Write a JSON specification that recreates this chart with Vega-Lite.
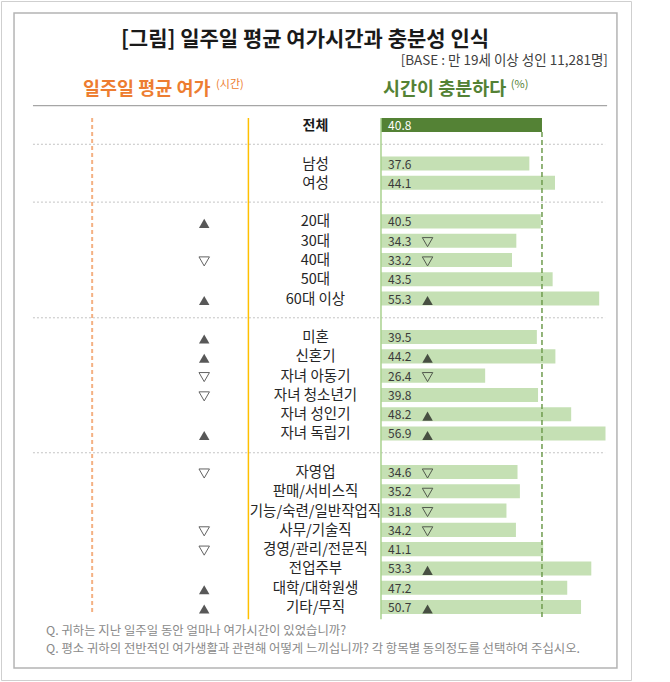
{
  "$schema": "https://vega.github.io/schema/vega-lite/v6.json",
  "width": 630,
  "height": 679,
  "padding": {"left": 1, "top": 1, "right": 39, "bottom": 2},
  "autosize": {"type": "none"},
  "background": "white",
  "config": {
    "view": {"stroke": "#cfcfcf", "strokeWidth": 1},
    "axis": {"disable": true},
    "font": "Noto Sans CJK KR",
    "text": {"font": "Noto Sans CJK KR"}
  },
  "datasets": {
    "rows": [
      {"label": "전체", "pct": 40.8, "left": "", "right": ""},
      {"label": "남성", "pct": 37.6, "left": "", "right": ""},
      {"label": "여성", "pct": 44.1, "left": "", "right": ""},
      {"label": "20대", "pct": 40.5, "left": "up", "right": ""},
      {"label": "30대", "pct": 34.3, "left": "", "right": "down"},
      {"label": "40대", "pct": 33.2, "left": "down", "right": "down"},
      {"label": "50대", "pct": 43.5, "left": "", "right": ""},
      {"label": "60대 이상", "pct": 55.3, "left": "up", "right": "up"},
      {"label": "미혼", "pct": 39.5, "left": "up", "right": ""},
      {"label": "신혼기", "pct": 44.2, "left": "up", "right": "up"},
      {"label": "자녀 아동기", "pct": 26.4, "left": "down", "right": "down"},
      {"label": "자녀 청소년기", "pct": 39.8, "left": "down", "right": ""},
      {"label": "자녀 성인기", "pct": 48.2, "left": "", "right": "up"},
      {"label": "자녀 독립기", "pct": 56.9, "left": "up", "right": "up"},
      {"label": "자영업", "pct": 34.6, "left": "down", "right": "down"},
      {"label": "판매/서비스직", "pct": 35.2, "left": "", "right": "down"},
      {"label": "기능/숙련/일반작업직", "pct": 31.8, "left": "", "right": "down"},
      {"label": "사무/기술직", "pct": 34.2, "left": "down", "right": "down"},
      {"label": "경영/관리/전문직", "pct": 41.1, "left": "down", "right": ""},
      {"label": "전업주부", "pct": 53.3, "left": "", "right": "up"},
      {"label": "대학/대학원생", "pct": 47.2, "left": "up", "right": ""},
      {"label": "기타/무직", "pct": 50.7, "left": "up", "right": "up"}
    ],
    "gaps": [{"g": "g1"}, {"g": "g2"}, {"g": "g3"}, {"g": "g4"}]
  },
  "data": {"name": "rows"},
  "layer": [
    {
      "data": {"values": [{}]},
      "mark": {"type": "rect", "filled": false, "stroke": "#b4b4b4", "strokeWidth": 1.5},
      "encoding": {
        "x": {"datum": -93.0},
        "x2": {"datum": 59.8},
        "y": {"datum": "t0", "bandPosition": 0.76},
        "y2": {"datum": "b2", "bandPosition": 0.72}
      }
    },
    {
      "data": {"values": [{}]},
      "mark": {"type": "rule", "color": "#a6a6a6", "strokeWidth": 1.2},
      "encoding": {
        "x": {"datum": -88.2},
        "x2": {"datum": 57.3},
        "y": {"datum": "t5"}
      }
    },
    {
      "data": {"name": "gaps"},
      "mark": {"type": "rule", "color": "#c4c4c4", "strokeWidth": 1, "strokeDash": [2, 2]},
      "encoding": {
        "x": {"datum": -88.2},
        "x2": {"datum": 56.8},
        "y": {"field": "g", "type": "nominal"}
      }
    },
    {
      "data": {"values": [{}]},
      "mark": {"type": "rule", "color": "#f4b183", "strokeWidth": 2, "strokeDash": [4, 3]},
      "encoding": {
        "x": {"datum": -73.2},
        "y": {"datum": "전체", "bandPosition": 0},
        "y2": {"datum": "기타/무직", "bandPosition": 1}
      }
    },
    {
      "data": {"values": [{}]},
      "mark": {"type": "rule", "color": "#ffc000", "strokeWidth": 1.5},
      "encoding": {
        "x": {"datum": -33.6},
        "y": {"datum": "전체", "bandPosition": 0},
        "y2": {"datum": "b0", "bandPosition": 0}
      }
    },
    {
      "mark": {"type": "bar"},
      "encoding": {
        "y": {
          "field": "label",
          "type": "nominal",
          "axis": null,
          "scale": {
            "type": "band",
            "domain": ["t0", "t1", "t2", "t3", "t4", "t5", "전체", "g1", "남성", "여성", "g2", "20대", "30대", "40대", "50대", "60대 이상", "g3", "미혼", "신혼기", "자녀 아동기", "자녀 청소년기", "자녀 성인기", "자녀 독립기", "g4", "자영업", "판매/서비스직", "기능/숙련/일반작업직", "사무/기술직", "경영/관리/전문직", "전업주부", "대학/대학원생", "기타/무직", "b0", "b1", "b2"],
            "paddingInner": 0.27,
            "paddingOuter": 0.244,
            "align": 0.136
          }
        },
        "x": {
          "field": "pct",
          "type": "quantitative",
          "axis": null,
          "scale": {"domain": [-96.3, 63.36], "nice": false, "zero": false}
        },
        "x2": {"datum": 0},
        "color": {
          "condition": {"test": "datum.label === '전체'", "value": "#548235"},
          "value": "#c5e0b4"
        }
      }
    },
    {
      "data": {"values": [{}]},
      "mark": {"type": "rule", "color": "#a9d18e", "strokeWidth": 1.5},
      "encoding": {
        "x": {"datum": 0},
        "y": {"datum": "전체", "bandPosition": 0},
        "y2": {"datum": "b0", "bandPosition": 0}
      }
    },
    {
      "data": {"values": [{}]},
      "mark": {"type": "rule", "color": "#6f9c4e", "strokeWidth": 1.5, "strokeDash": [5, 3]},
      "encoding": {
        "x": {"datum": 40.8},
        "y": {"datum": "전체", "bandPosition": 1},
        "y2": {"datum": "b0", "bandPosition": 0}
      }
    },
    {
      "mark": {"type": "text", "align": "left", "baseline": "middle", "fontSize": 12, "dy": 1},
      "encoding": {
        "x": {"datum": 1.8},
        "y": {"field": "label", "type": "nominal"},
        "text": {"field": "pct", "type": "quantitative", "format": ".1f"},
        "color": {
          "condition": {"test": "datum.label === '전체'", "value": "#ffffff"},
          "value": "#3a3a3a"
        }
      }
    },
    {
      "transform": [{"filter": "datum.label !== '전체'"}],
      "mark": {"type": "text", "align": "center", "baseline": "middle", "fontSize": 14.5, "color": "#262626", "dy": 1},
      "encoding": {
        "x": {"datum": -16.6},
        "y": {"field": "label", "type": "nominal"},
        "text": {"field": "label", "type": "nominal"}
      }
    },
    {
      "transform": [{"filter": "datum.label === '전체'"}],
      "mark": {"type": "text", "align": "center", "baseline": "middle", "fontSize": 14, "fontWeight": "bold", "color": "#1a1a1a", "dy": 1},
      "encoding": {
        "x": {"datum": -16.6},
        "y": {"field": "label", "type": "nominal"},
        "text": {"field": "label", "type": "nominal"}
      }
    },
    {
      "transform": [{"filter": "datum.left === 'up'"}],
      "mark": {"type": "point", "shape": "triangle-up", "filled": true, "color": "#111111", "size": 110},
      "encoding": {
        "x": {"datum": -44.8},
        "y": {"field": "label", "type": "nominal"},
        "yOffset": {"value": 9}
      }
    },
    {
      "transform": [{"filter": "datum.left === 'down'"}],
      "mark": {"type": "point", "shape": "triangle-down", "filled": false, "stroke": "#222222", "strokeWidth": 1, "size": 110},
      "encoding": {
        "x": {"datum": -44.8},
        "y": {"field": "label", "type": "nominal"},
        "yOffset": {"value": 8.5}
      }
    },
    {
      "transform": [{"filter": "datum.right === 'up'"}],
      "mark": {"type": "point", "shape": "triangle-up", "filled": true, "color": "#111111", "size": 110},
      "encoding": {
        "x": {"datum": 11.8},
        "y": {"field": "label", "type": "nominal"},
        "yOffset": {"value": 9}
      }
    },
    {
      "transform": [{"filter": "datum.right === 'down'"}],
      "mark": {"type": "point", "shape": "triangle-down", "filled": false, "stroke": "#222222", "strokeWidth": 1, "size": 110},
      "encoding": {
        "x": {"datum": 11.8},
        "y": {"field": "label", "type": "nominal"},
        "yOffset": {"value": 8.5}
      }
    },
    {
      "data": {"values": [{}]},
      "mark": {"type": "text", "text": "[그림] 일주일 평균 여가시간과 충분성 인식", "align": "center", "baseline": "middle", "fontSize": 21, "fontWeight": "bold", "color": "#1a1a1a", "dy": -8},
      "encoding": {"x": {"datum": -19.26}, "y": {"datum": "t2"}}
    },
    {
      "data": {"values": [{}]},
      "mark": {"type": "text", "text": "[BASE : 만 19세 이상 성인 11,281명]", "align": "right", "baseline": "middle", "fontSize": 13.5, "color": "#404040", "dy": -6},
      "encoding": {"x": {"datum": 57.5}, "y": {"datum": "t3"}}
    },
    {
      "data": {"values": [{}]},
      "mark": {"type": "text", "text": "일주일 평균 여가", "align": "left", "baseline": "middle", "fontSize": 18.5, "fontWeight": "bold", "color": "#ed7d31", "dy": 3},
      "encoding": {"x": {"datum": -75.5}, "y": {"datum": "t4"}}
    },
    {
      "data": {"values": [{}]},
      "mark": {"type": "text", "text": "(시간)", "align": "left", "baseline": "middle", "fontSize": 11, "color": "#ed7d31", "dy": -1},
      "encoding": {"x": {"datum": -41.8}, "y": {"datum": "t4"}}
    },
    {
      "data": {"values": [{}]},
      "mark": {"type": "text", "text": "시간이 충분하다", "align": "left", "baseline": "middle", "fontSize": 18.5, "fontWeight": "bold", "color": "#548235", "dy": 3},
      "encoding": {"x": {"datum": 0.5}, "y": {"datum": "t4"}}
    },
    {
      "data": {"values": [{}]},
      "mark": {"type": "text", "text": "(%)", "align": "left", "baseline": "middle", "fontSize": 11, "color": "#548235", "dy": -1},
      "encoding": {"x": {"datum": 32.9}, "y": {"datum": "t4"}}
    },
    {
      "data": {"values": [{}]},
      "mark": {"type": "text", "text": "Q. 귀하는 지난 일주일 동안 얼마나 여가시간이 있었습니까?", "align": "left", "baseline": "middle", "fontSize": 12.4, "color": "#8a8a8a", "dy": 4.5},
      "encoding": {"x": {"datum": -84.9}, "y": {"datum": "b0"}}
    },
    {
      "data": {"values": [{}]},
      "mark": {"type": "text", "text": "Q. 평소 귀하의 전반적인 여가생활과 관련해 어떻게 느끼십니까? 각 항목별 동의정도를 선택하여 주십시오.", "align": "left", "baseline": "middle", "fontSize": 12.4, "color": "#8a8a8a", "dy": 3},
      "encoding": {"x": {"datum": -84.9}, "y": {"datum": "b1"}}
    }
  ]
}
